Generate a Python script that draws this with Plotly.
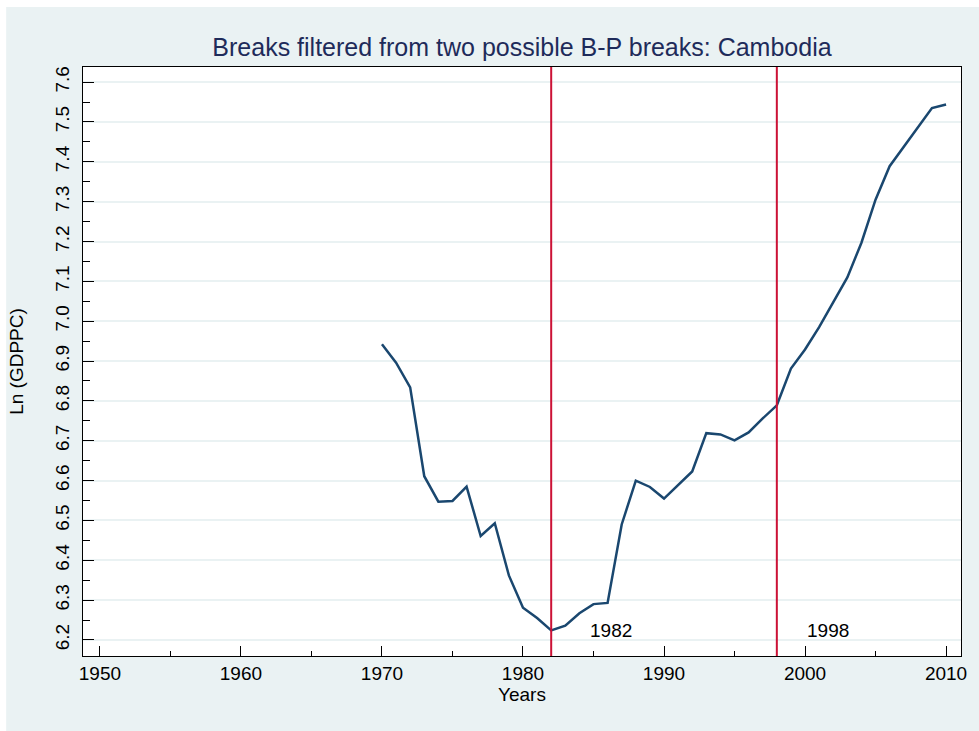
import plotly.graph_objects as go

# Cambodia, log GDP per capita, 1970-2010
years = list(range(1970, 2011))
ln_gdppc = [
    6.942, 6.896, 6.834, 6.611, 6.547, 6.549, 6.585, 6.461, 6.493, 6.362,
    6.281, 6.255, 6.224, 6.236, 6.267, 6.290, 6.293, 6.490, 6.600, 6.584,
    6.555, 6.590, 6.623, 6.719, 6.716, 6.701, 6.721, 6.756, 6.789, 6.881,
    6.929, 6.985, 7.049, 7.110, 7.197, 7.305, 7.389, 7.438, 7.487, 7.535,
    7.544,
]

# Structural break years
break_years = [1982, 1998]
break_labels = ["1982", "1998"]
break_label_x = [1984.6, 2000.0]
break_label_y = 6.223

x_ticks = [1950, 1960, 1970, 1980, 1990, 2000, 2010]
y_ticks = [round(6.2 + 0.1 * i, 1) for i in range(15)]
y_tick_text = [f"{v:.1f}" for v in y_ticks]

NAVY = "#1A476F"
CRANBERRY = "#CC1236"
BLUISH = "#EAF2F3"
FONT = "Liberation Sans, Arial, sans-serif"

fig = go.Figure()
fig.add_trace(go.Scatter(
    x=years, y=ln_gdppc, mode="lines",
    line=dict(color=NAVY, width=2.5),
    showlegend=False, hoverinfo="skip",
))

shapes = [
    # outer graph region
    dict(type="rect", xref="paper", yref="paper",
         x0=-0.0875, x1=1.05, y0=-0.2, y1=1.1019,
         fillcolor=BLUISH, line=dict(width=0), layer="below"),
    # plot region
    dict(type="rect", xref="paper", yref="paper",
         x0=0, x1=1, y0=0, y1=1,
         fillcolor="white", line=dict(width=0), layer="below"),
]
for yr in break_years:
    shapes.append(dict(type="line", xref="x", yref="paper",
                       x0=yr, x1=yr, y0=0, y1=1,
                       line=dict(color=CRANBERRY, width=2)))

annotations = [
    dict(x=bx, y=break_label_y, xref="x", yref="y", text=t,
         showarrow=False, xanchor="left", yanchor="middle",
         font=dict(family=FONT, size=19, color="black"))
    for bx, t in zip(break_label_x, break_labels)
]

fig.update_layout(
    width=979, height=731,
    margin=dict(l=83, r=16, t=67, b=75),
    paper_bgcolor="white", plot_bgcolor="white",
    font=dict(family=FONT, size=19, color="black"),
    title=dict(text="Breaks filtered from two possible B-P breaks: Cambodia",
               x=0.5, xref="paper", xanchor="center",
               y=1 - 47 / 731, yref="container", yanchor="middle",
               font=dict(family=FONT, size=25, color="#1E2B5A")),
    shapes=shapes,
    annotations=annotations,
    xaxis=dict(
        range=[1948.8, 2011.06], tickmode="array", tickvals=x_ticks,
        ticks="inside", ticklen=10, tickwidth=1, tickcolor="black",
        minor=dict(ticks="inside", ticklen=5, tickwidth=1, tickcolor="black",
                   tickvals=[1955, 1965, 1975, 1985, 1995, 2005], showgrid=False),
        showgrid=False, zeroline=False,
        showline=True, linecolor="black", linewidth=1, mirror=True,
        tickfont=dict(family=FONT, size=19, color="black"),
        title=dict(text="Years", standoff=0,
                   font=dict(family=FONT, size=19, color="black")),
    ),
    yaxis=dict(
        range=[6.1598, 7.638], tickmode="array", tickvals=y_ticks,
        ticktext=y_tick_text, tickangle=-90, ticklabelstandoff=5,
        ticks="inside", ticklen=11, tickwidth=1, tickcolor="black",
        minor=dict(ticks="inside", ticklen=7, tickwidth=1, tickcolor="black",
                   tickvals=[round(6.25 + 0.1 * i, 2) for i in range(14)],
                   showgrid=False),
        showgrid=True, gridcolor=BLUISH, gridwidth=2, zeroline=False,
        showline=True, linecolor="black", linewidth=1, mirror=True,
        tickfont=dict(family=FONT, size=19, color="black"),
        title=dict(text="Ln (GDPPC)", standoff=23,
                   font=dict(family=FONT, size=19, color="black")),
    ),
)

fig.write_html("out.html")
